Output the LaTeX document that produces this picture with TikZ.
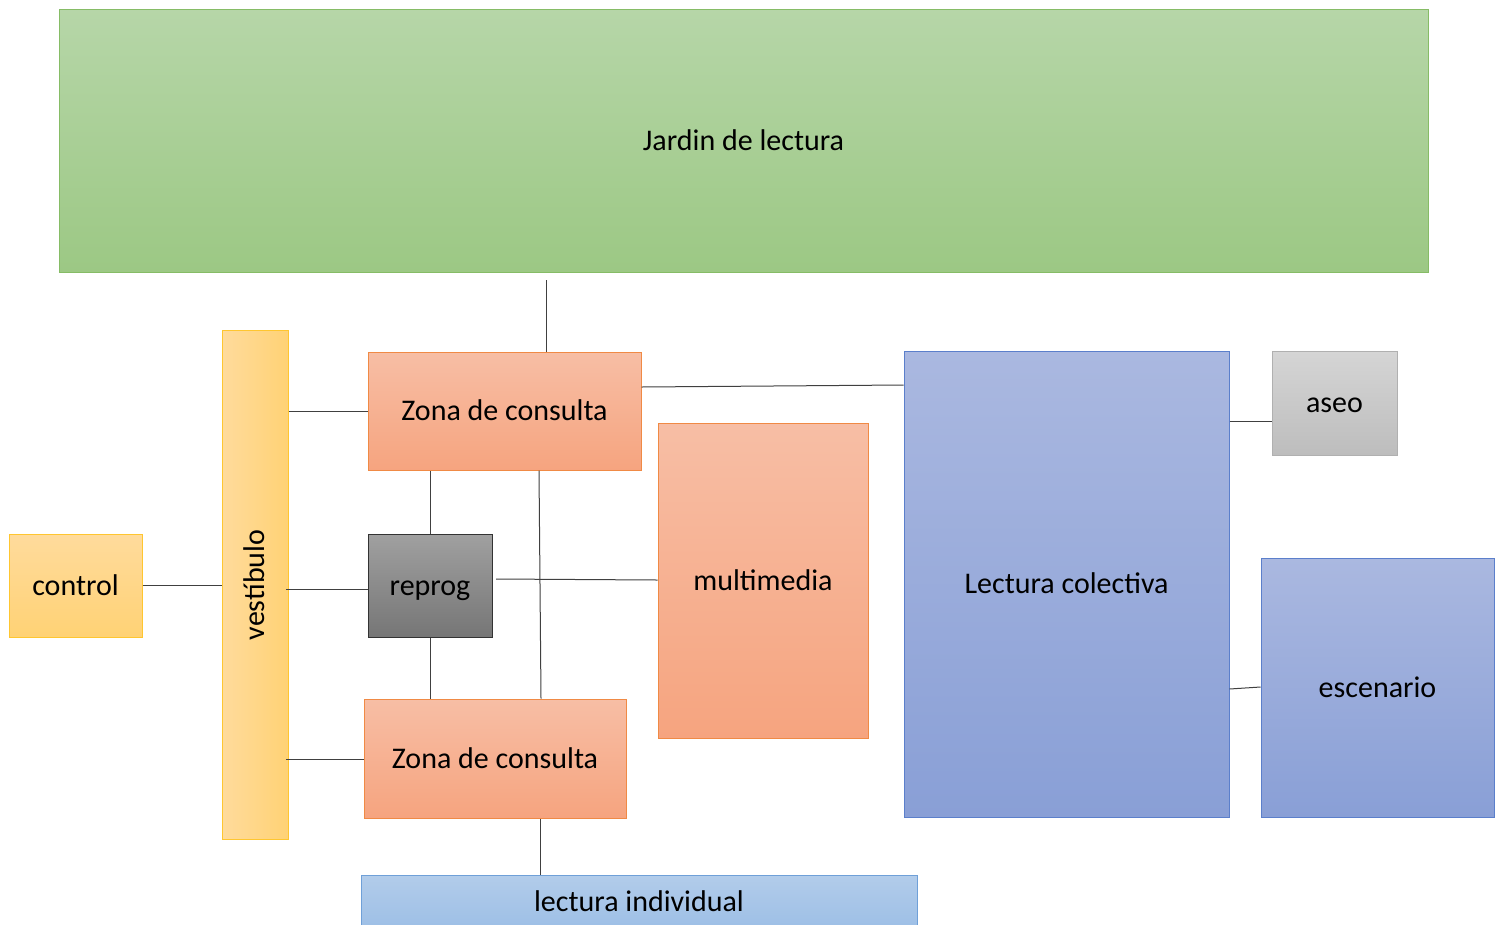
\documentclass[tikz,border=0pt]{standalone}
\usepackage{fontspec}
\setmainfont{Carlito}
\begin{document}
\begin{tikzpicture}[x=1pt,y=-1pt,
  box/.style={rectangle,inner sep=0pt,line width=1pt,font=\fontsize{30}{36}\selectfont,text=black,text height=21pt,text depth=2pt},
  greenbox/.style={box,draw=grnB,top color=grnT,bottom color=grnBo},
  yelbox/.style={box,draw=yelB,top color=yelT,bottom color=yelBo},
  yelboxh/.style={box,draw=yelB,left color=yelT,right color=yelBo},
  orbox/.style={box,draw=orB,top color=orT,bottom color=orBo},
  graybox/.style={box,draw=gryB,top color=gryT,bottom color=gryBo},
  lgraybox/.style={box,draw=lgB,top color=lgT,bottom color=lgBo},
  bluebox/.style={box,draw=bluB,top color=bluT,bottom color=bluBo},
  lbluebox/.style={box,draw=lbB,top color=lbT,bottom color=lbBo},
  conn/.style={draw=connC,line width=1pt}]
\definecolor{grnT}{HTML}{B6D6A8}\definecolor{grnBo}{HTML}{9CC884}\definecolor{grnB}{HTML}{86BC66}
\definecolor{yelT}{HTML}{FFDB9C}\definecolor{yelBo}{HTML}{FFD275}\definecolor{yelB}{HTML}{FFC630}
\definecolor{orT}{HTML}{F7BEA5}\definecolor{orBo}{HTML}{F6A47F}\definecolor{orB}{HTML}{F08A45}
\definecolor{gryT}{HTML}{A0A0A0}\definecolor{gryBo}{HTML}{767676}\definecolor{gryB}{HTML}{333333}
\definecolor{lgT}{HTML}{D5D5D5}\definecolor{lgBo}{HTML}{BDBDBD}\definecolor{lgB}{HTML}{B0B0B0}
\definecolor{bluT}{HTML}{AAB8E0}\definecolor{bluBo}{HTML}{899FD6}\definecolor{bluB}{HTML}{5B7FCB}
\definecolor{lbT}{HTML}{B2CCEA}\definecolor{lbBo}{HTML}{9DBFE6}\definecolor{lbB}{HTML}{6FA0D8}
\definecolor{connC}{HTML}{404040}
\useasboundingbox (0,0) rectangle (1503,924);
\fill[white] (0,0) rectangle (1503,924);
% nodes
\node[greenbox,minimum width=1369,minimum height=263] (jardin) at (743.5,140.5) {Jardin de lectura};
\node[yelboxh,minimum width=66,minimum height=509] (vest) at (255,584.5) {};
\node[rotate=90,font=\fontsize{30}{36}\selectfont,text height=21pt,text depth=4pt] (vestt) at (256,585) {vestíbulo};
\node[orbox,minimum width=273,minimum height=118] (zona1) at (504.5,411) {Zona de consulta};
\node[graybox,minimum width=124,minimum height=103] (reprog) at (430,585.5) {reprog};
\node[orbox,minimum width=262,minimum height=119] (zona2) at (495,758.5) {Zona de consulta};
\node[orbox,minimum width=210,minimum height=315] (multi) at (763,580.5) {multimedia};
\node[bluebox,minimum width=325,minimum height=466] (lcol) at (1066.5,584) {Lectura colectiva};
\node[lgraybox,minimum width=125,minimum height=104] (aseo) at (1334.5,403) {aseo};
\node[bluebox,minimum width=233,minimum height=259] (esc) at (1377.5,687.5) {escenario};
\node[yelbox,minimum width=133,minimum height=103] (control) at (75.5,585.5) {control};
\node[lbluebox,minimum width=556,minimum height=54] (lind) at (639,902) {lectura individual};
% free end
\coordinate (jbot) at (546,280);
% connectors
\draw[conn] (jbot) -- (zona1.north -| jbot);
\draw[conn] (vest.east |- 0,411) -- (zona1.west |- 0,411);
\draw[conn] (286,589) -- (reprog.west |- 0,589);
\draw[conn] (286,759) -- (zona2.west |- 0,759);
\draw[conn] (control.east) -- (vest.west |- control.east);
\draw[conn] (reprog.north) -- (zona1.south -| reprog.north);
\draw[conn] (reprog.south) -- (zona2.north -| reprog.south);
\draw[conn] (zona1.south -| 539,0) -- (zona2.north -| 541,0);
\draw[conn] (496,579) -- (multi.west |- 0,580);
\draw[conn] (zona1.east |- 0,387) -- (lcol.west |- 0,385);
\draw[conn] (lcol.east |- 0,421) -- (aseo.west |- 0,421);
\draw[conn] (lcol.east |- 0,689) -- (esc.west |- 0,687);
\draw[conn] (zona2.south -| 540,0) -- (lind.north -| 540,0);
\end{tikzpicture}
\end{document}
